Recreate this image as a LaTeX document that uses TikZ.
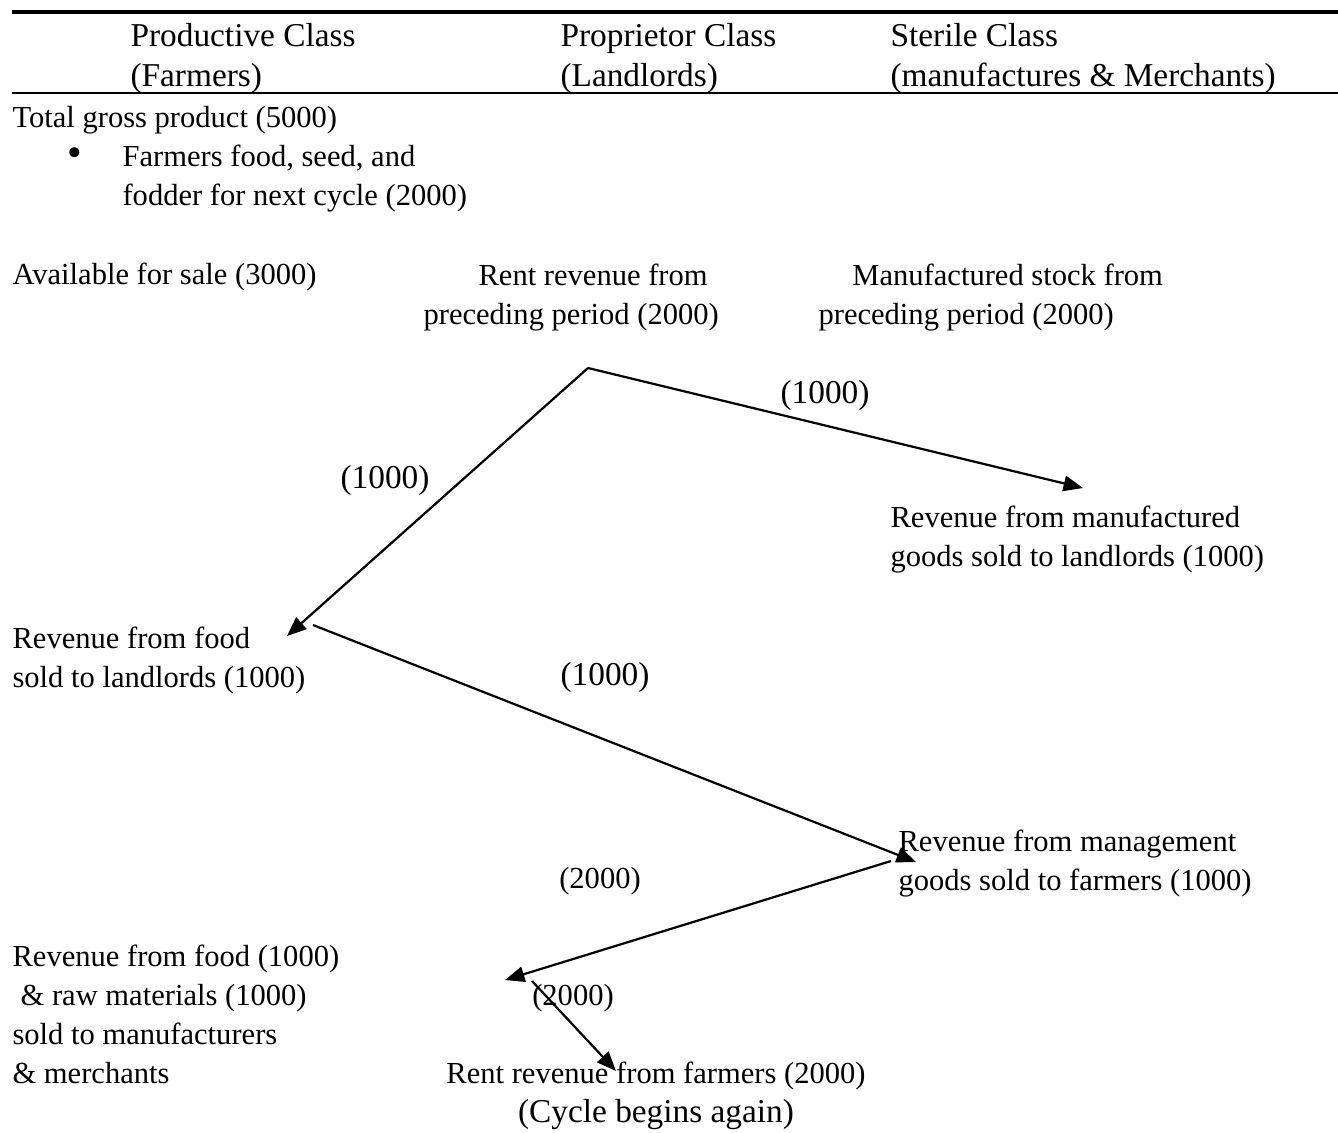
\documentclass[tikz,border=0pt]{standalone}
\usepackage{fontspec}
\setmainfont{Liberation Serif}
\usetikzlibrary{arrows.meta}
\begin{document}
\begin{tikzpicture}[x=0.36pt,y=-0.36pt,
  txt/.style={anchor=base west,inner sep=0pt,align=left,font=\fontsize{11pt}{14pt}\selectfont},
  head/.style={txt,font=\fontsize{12pt}{14.4pt}\selectfont},
  num/.style={inner sep=0pt,font=\fontsize{12pt}{14.2pt}\selectfont},
  flow/.style={-{Triangle[length=7pt,width=5.6pt]},line width=0.8pt}]

\useasboundingbox (0,0) rectangle (1338,1132);

% header rules
\draw[line width=1.1pt] (12,12) -- (1338,12);
\draw[line width=0.7pt] (12,93) -- (1338,93);

% (multi-line nodes sit on their last baseline)
\node[head] (prod) at (130,86) {Productive Class\\(Farmers)};
\node[head] (prop) at (560,86) {Proprietor Class\\(Landlords)};
\node[head] (ster) at (890,86) {Sterile Class\\(manufactures \& Merchants)};

% farmers side
\node[txt] (gross) at (12,127) {Total gross product (5000)};
\node[num,font=\fontsize{15pt}{15pt}\selectfont] (dot) at (75,157) {•};
\node[txt] (seed) at (122,205) {Farmers food, seed, and\\fodder for next cycle (2000)};
\node[txt] (avail) at (12,284) {Available for sale (3000)};
\node[txt] (rentPrev) at (423,324) {\hspace*{19.8pt}Rent revenue from\\preceding period (2000)};
\node[txt] (stockPrev) at (818,324) {\hspace*{12.2pt}Manufactured stock from\\preceding period (2000)};

\node[txt] (mfgRev) at (890,566) {Revenue from manufactured\\goods sold to landlords (1000)};
\node[txt] (foodRev) at (12,687) {Revenue from food\\sold to landlords (1000)};
\node[txt] (mgmtRev) at (898,890) {Revenue from management\\goods sold to farmers (1000)};
\node[txt] (rawRev) at (12,1083) {Revenue from food (1000)\\\hspace*{2.9pt}\& raw materials (1000)\\sold to manufacturers\\\& merchants};
\node[txt,anchor=base,align=center] (rentFarm) at (656,1122) {Rent revenue from farmers (2000)\\{\fontsize{12pt}{14pt}\selectfont (Cycle begins again)}};

% flow amounts
\node[num] (amtA) at (385,480) {(1000)};
\node[num] (amtB) at (825,395) {(1000)};
\node[num] (amtC) at (605,677) {(1000)};
\node[num,font=\fontsize{11pt}{14pt}\selectfont] (amtD) at (600,881) {(2000)};
\node[num,font=\fontsize{11pt}{14pt}\selectfont] (amtE) at (573,998) {(2000)};

% arrow ends
\coordinate (apex) at (588,368);
\coordinate (foodTip) at (287,636);
\coordinate (mfgTip) at (1083,488);
\coordinate (foodOut) at (313,625);
\coordinate (mgmtTip) at (916,862);
\coordinate (mgmtOut) at (891,861);
\coordinate (rawTip) at (505,980);
\coordinate (rawOut) at (532,981);
\coordinate (rentTip) at (616,1071);

\draw[flow] (apex) -- (foodTip);
\draw[flow] (apex) -- (mfgTip);
\draw[flow] (foodOut) -- (mgmtTip);
\draw[flow] (mgmtOut) -- (rawTip);
\draw[flow] (rawOut) -- (rentTip);

\end{tikzpicture}
\end{document}
